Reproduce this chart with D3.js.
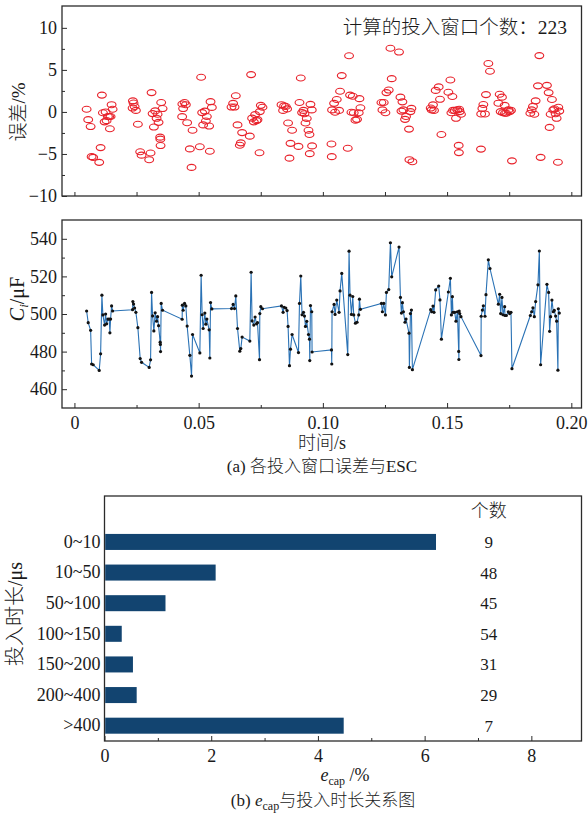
<!DOCTYPE html>
<html>
<head>
<meta charset="utf-8">
<script src="https://cdn.jsdelivr.net/npm/d3@7/dist/d3.min.js"></script>
<style>
  html, body { margin: 0; padding: 0; background: #fff; }
  svg { display: block; }
  text { font-family: "Liberation Serif", "DejaVu Serif", "Noto Sans CJK SC", serif; fill: #1a1a1a; }
</style>
</head>
<body>
<svg id="chart" width="588" height="816"></svg>
<script>
// Switching-window time stamps (s)
const times = [
  0.00491,0.00555,0.00652,0.00692,0.00756,0.00998,0.01054,0.01106,0.01146,0.01215,
  0.01255,0.01295,0.01348,0.01400,0.01428,0.01456,0.01496,0.01537,0.02341,0.02353,
  0.02381,0.02422,0.02474,0.02554,0.02647,0.02703,0.03009,0.03065,0.03105,0.03146,
  0.03198,0.03250,0.03307,0.03347,0.03387,0.03451,0.03459,0.03467,0.03492,0.03548,
  0.04336,0.04344,0.04376,0.04433,0.04485,0.04537,0.04646,0.04714,0.04755,0.05048,
  0.05100,0.05141,0.05181,0.05249,0.05290,0.05330,0.05422,0.05451,0.05479,0.05531,
  0.06323,0.06388,0.06444,0.06496,0.06565,0.06657,0.06697,0.06750,0.07060,0.07112,
  0.07152,0.07220,0.07273,0.07329,0.07369,0.07450,0.07462,0.07502,0.07570,0.08335,
  0.08399,0.08439,0.08508,0.08560,0.08600,0.08656,0.08697,0.08761,0.09018,0.09059,
  0.09111,0.09163,0.09220,0.09260,0.09300,0.09352,0.09421,0.09461,0.09473,0.09501,
  0.09553,0.09566,0.10346,0.10358,0.10370,0.10451,0.10491,0.10559,0.10652,0.10692,
  0.10760,0.11002,0.11054,0.11094,0.11150,0.11203,0.11243,0.11311,0.11376,0.11444,
  0.11472,0.11512,0.12357,0.12397,0.12450,0.12518,0.12558,0.12651,0.12719,0.12771,
  0.13065,0.13122,0.13162,0.13202,0.13242,0.13307,0.13347,0.13467,0.13483,0.13524,
  0.13564,0.13604,0.14340,0.14381,0.14433,0.14473,0.14541,0.14662,0.14714,0.14771,
  0.15052,0.15133,0.15173,0.15213,0.15237,0.15306,0.15358,0.15414,0.15467,0.15475,
  0.15487,0.15507,0.15559,0.16364,0.16372,0.16420,0.16460,0.16525,0.16565,0.16661,
  0.16726,0.17064,0.17116,0.17156,0.17208,0.17249,0.17317,0.17329,0.17385,0.17466,
  0.17518,0.17571,0.17611,0.18351,0.18403,0.18456,0.18512,0.18564,0.18657,0.18713,
  0.18765,0.19019,0.19087,0.19127,0.19167,0.19220,0.19276,0.19316,0.19368,0.19409,
  0.19461,0.19477,0.19517
];

// Estimated capacitance C_i per window (μF)
const capUF = [
  501.6,495.4,491.3,473.4,473.0,470.0,478.8,510.0,499.5,494.1,
  500.0,494.8,497.3,497.3,490.0,497.3,504.3,501.6,502.3,506.6,
  505.3,503.2,500.9,492.7,476.3,474.3,471.6,475.6,511.5,499.0,
  491.0,500.6,496.2,498.6,493.8,485.0,483.8,480.0,505.6,502.0,
  497.2,504.7,502.0,505.6,504.3,493.6,478.0,467.0,489.1,479.3,
  520.6,499.6,492.3,500.5,494.6,497.3,491.6,476.6,506.1,502.7,
  502.9,505.1,502.9,509.6,492.3,480.2,481.6,487.7,485.6,522.2,
  496.3,494.1,498.4,494.8,495.4,475.7,500.2,503.9,502.8,504.3,
  500.9,503.6,503.2,501.8,493.4,472.5,481.3,489.1,479.5,505.6,
  520.2,499.6,500.9,498.9,493.4,496.1,489.1,486.6,475.2,504.5,
  501.2,479.8,480.9,473.4,501.2,505.1,499.8,507.4,500.9,512.3,
  521.6,478.4,533.4,510.0,499.8,509.3,499.5,495.1,495.6,499.5,
  507.9,502.5,505.6,501.2,505.6,499.5,511.5,513.0,537.9,519.8,
  535.6,508.8,500.5,506.0,501.2,495.6,497.3,489.8,471.6,500.2,
  502.1,470.4,502.3,501.2,504.2,500.9,512.8,514.9,507.5,486.6,
  511.7,519.0,499.5,509.2,500.9,500.9,496.2,501.2,480.1,475.8,
  501.6,500.2,498.6,477.9,498.8,502.1,504.4,498.8,510.3,528.8,
  524.2,505.2,510.5,500.2,508.8,499.6,503.9,499.2,499.2,501.2,
  500.2,500.9,470.9,499.2,501.2,503.3,498.6,506.6,515.5,533.5,
  473.0,515.8,511.5,490.8,498.6,507.4,501.2,501.9,498.9,496.2,
  470.1,502.8,500.5
];

// Error of each window (%)
const errPct = [
  0.32,-0.92,-1.74,-5.32,-5.40,-6.00,-4.24,2.00,-0.10,-1.18,
  0.00,-1.04,-0.54,-0.54,-2.00,-0.54,0.86,0.32,0.46,1.32,
  1.06,0.64,0.18,-1.46,-4.74,-5.14,-5.68,-4.88,2.30,-0.20,
  -1.80,0.12,-0.76,-0.28,-1.24,-3.00,-3.24,-4.00,1.12,0.40,
  -0.56,0.94,0.40,1.12,0.86,-1.28,-4.40,-6.60,-2.18,-4.14,
  4.12,-0.08,-1.54,0.10,-1.08,-0.54,-1.68,-4.68,1.22,0.54,
  0.58,1.02,0.58,1.92,-1.54,-3.96,-3.68,-2.46,-2.88,4.44,
  -0.74,-1.18,-0.32,-1.04,-0.92,-4.86,0.04,0.78,0.56,0.86,
  0.18,0.72,0.64,0.36,-1.32,-5.50,-3.74,-2.18,-4.10,1.12,
  4.04,-0.08,0.18,-0.22,-1.32,-0.78,-2.18,-2.68,-4.96,0.90,
  0.24,-4.04,-3.82,-5.32,0.24,1.02,-0.04,1.48,0.18,2.46,
  4.32,-4.32,6.68,2.00,-0.04,1.86,-0.10,-0.98,-0.88,-0.10,
  1.58,0.50,1.12,0.24,1.12,-0.10,2.30,2.60,7.58,3.96,
  7.12,1.76,0.10,1.20,0.24,-0.88,-0.54,-2.04,-5.68,0.04,
  0.42,-5.92,0.46,0.24,0.84,0.18,2.56,2.98,1.50,-2.68,
  2.34,3.80,-0.10,1.84,0.18,0.18,-0.76,0.24,-3.98,-4.84,
  0.32,0.04,-0.28,-4.42,-0.24,0.42,0.88,-0.24,2.06,5.76,
  4.84,1.04,2.10,0.04,1.76,-0.08,0.78,-0.16,-0.16,0.24,
  0.04,0.18,-5.82,-0.16,0.24,0.66,-0.28,1.32,3.10,6.70,
  -5.40,3.16,2.30,-1.84,-0.28,1.48,0.24,0.38,-0.22,-0.76,
  -5.98,0.56,0.10
];

// Switching duration bins (μs), mean e_cap (%) and window count per bin
const durationBins = ["0~10", "10~50", "50~100", "100~150", "150~200", "200~400", ">400"];
const ecapVals = [6.2, 2.07, 1.13, 0.31, 0.52, 0.59, 4.47];
const windowCounts = [9, 48, 45, 54, 31, 29, 7];

const timeTicks = [0, 0.05, 0.10, 0.15, 0.20];
const timeTickLabels = ["0", "0.05", "0.10", "0.15", "0.20"];
const errTicks = [-10, -5, 0, 5, 10];
const capTicks = [460, 480, 500, 520, 540];
const ecapTicks = [0, 2, 4, 6, 8];

const SERIF = '"Liberation Serif", "DejaVu Serif", serif';
const MIXED = '"Liberation Serif", "Noto Sans CJK SC", serif';

const svg = d3.select("#chart");
const FRAME = "#2b2b2b";
const LBL = 18;

function frame(x0, y0, x1, y1) {
  svg.append("rect").attr("x", x0).attr("y", y0)
    .attr("width", x1 - x0).attr("height", y1 - y0)
    .attr("fill", "none").attr("stroke", FRAME).attr("stroke-width", 1.3);
}
function styleAxis(g) {
  g.attr("font-family", null).attr("font-size", null);
  g.select(".domain").remove();
  g.selectAll("line").attr("stroke", FRAME).attr("stroke-width", 1);
  g.selectAll("text").style("font-size", LBL + "px")
    .style("font-family", SERIF).attr("fill", "#1a1a1a");
}
function label(x, y, size, txt, rotate) {
  const t = svg.append("text")
    .attr("transform", rotate ? `translate(${x},${y}) rotate(-90)` : `translate(${x},${y})`)
    .attr("text-anchor", "middle").style("font-size", size + "px")
    .style("font-family", MIXED).style("font-weight", 300);
  if (txt) t.text(txt);
  return t;
}

// ---------- shared time axis ----------
const xT = d3.scaleLinear().domain([-0.005, 0.2041]).range([62, 581.5]);
const minorTime = d3.range(0, 0.2001, 0.025);

// ---------- panel 1: error scatter ----------
const yE = d3.scaleLinear().domain([-10, 12.6]).range([196, 6]);
frame(62, 6, 581.5, 196);

svg.append("g").attr("transform", "translate(0,196)")
  .call(d3.axisBottom(xT).tickValues(minorTime).tickSize(-4).tickFormat(""))
  .call(styleAxis);
svg.append("g").attr("transform", "translate(62,0)")
  .call(d3.axisLeft(yE).tickValues(errTicks).tickSize(-5).tickPadding(5)
    .tickFormat(d => d < 0 ? "\u2212" + Math.abs(d) : d))
  .call(styleAxis);
svg.append("g").attr("transform", "translate(62,0)")
  .call(d3.axisLeft(yE).tickValues([-7.5, -2.5, 2.5, 7.5]).tickSize(-3).tickFormat(""))
  .call(styleAxis);

svg.append("g").selectAll("ellipse").data(times).join("ellipse")
  .attr("cx", (d) => xT(d))
  .attr("cy", (d, i) => yE(errPct[i]))
  .attr("rx", 4.4).attr("ry", 3.0)
  .attr("fill", "none").attr("stroke", "#e8222b").attr("stroke-width", 1.1);

svg.append("text").attr("x", 567).attr("y", 34).attr("text-anchor", "end")
  .style("font-size", "19.5px").style("font-family", MIXED).style("font-weight", 300)
  .text("计算的投入窗口个数：223");

label(25, 112, 19, "误差/%", true);

// ---------- panel 2: capacitance line ----------
const yC = d3.scaleLinear().domain([450, 550]).range([408, 220]);
frame(62, 220, 581.5, 408);

svg.append("g").attr("transform", "translate(0,408)")
  .call(d3.axisBottom(xT).tickValues(timeTicks).tickSize(-5).tickPadding(8)
    .tickFormat((d, i) => timeTickLabels[i]))
  .call(styleAxis);
svg.append("g").attr("transform", "translate(0,408)")
  .call(d3.axisBottom(xT).tickValues([0.025, 0.075, 0.125, 0.175]).tickSize(-3).tickFormat(""))
  .call(styleAxis);
svg.append("g").attr("transform", "translate(62,0)")
  .call(d3.axisLeft(yC).tickValues(capTicks).tickSize(-5).tickPadding(5))
  .call(styleAxis);
svg.append("g").attr("transform", "translate(62,0)")
  .call(d3.axisLeft(yC).tickValues([470, 490, 510, 530]).tickSize(-3).tickFormat(""))
  .call(styleAxis);

const line = d3.line().x((d) => xT(d)).y((d, i) => yC(capUF[i]));
svg.append("path").datum(times).attr("d", line)
  .attr("fill", "none").attr("stroke", "#2a72b5").attr("stroke-width", 1.1);
svg.append("g").selectAll("circle").data(times).join("circle")
  .attr("cx", (d) => xT(d)).attr("cy", (d, i) => yC(capUF[i]))
  .attr("r", 1.6).attr("fill", "#111");

const cLabel = label(24, 299, 20, null, true).style("font-family", SERIF).style("font-weight", 400);
cLabel.append("tspan").style("font-style", "italic").text("C");
cLabel.append("tspan").style("font-style", "italic").style("font-size", "13px").attr("dy", 4).text("i");
cLabel.append("tspan").attr("dy", -4).text("/μF");

label(322, 449, 18, "时间/s");
label(322, 472, 17, "(a) 各投入窗口误差与ESC");

// ---------- panel 3: e_cap by switching duration ----------
const xB = d3.scaleLinear().domain([0, 8.94]).range([104.5, 581.5]);
const yB = d3.scaleBand().domain(["header", ...durationBins]).range([496, 741])
  .paddingInner(0.477).paddingOuter(0.2385);
frame(104.5, 496, 581.5, 741);

svg.append("g").attr("transform", "translate(0,741)")
  .call(d3.axisBottom(xB).tickValues(ecapTicks).tickSize(-5).tickPadding(8))
  .call(styleAxis);
svg.append("g").attr("transform", "translate(0,741)")
  .call(d3.axisBottom(xB).tickValues([1, 3, 5, 7]).tickSize(-3).tickFormat(""))
  .call(styleAxis);
svg.append("g").attr("transform", "translate(104.5,0)")
  .call(d3.axisLeft(yB).tickValues(durationBins).tickSize(0).tickPadding(4))
  .call(styleAxis);

svg.append("g").selectAll("rect").data(durationBins).join("rect")
  .attr("x", xB(0) + 0.7).attr("y", (d) => yB(d))
  .attr("width", (d, i) => xB(ecapVals[i]) - xB(0))
  .attr("height", yB.bandwidth()).attr("fill", "#124470");

const countX = xB(7.2);
svg.append("text").attr("x", countX).attr("y", yB("header") + yB.bandwidth() / 2 + 6)
  .attr("text-anchor", "middle").style("font-size", "18px").style("font-family", MIXED)
  .style("font-weight", 300).text("个数");
svg.append("g").selectAll("text").data(durationBins).join("text")
  .attr("x", countX).attr("y", (d) => yB(d) + yB.bandwidth() / 2 + 6)
  .attr("text-anchor", "middle").style("font-size", "17px").style("font-family", SERIF)
  .text((d, i) => windowCounts[i]);

label(22, 614, 20, "投入时长/μs", true);

const eLabel = label(345, 781, 18, null).style("font-family", SERIF).style("font-weight", 400);
eLabel.append("tspan").style("font-style", "italic").text("e");
eLabel.append("tspan").style("font-size", "12px").attr("dy", 4).text("cap");
eLabel.append("tspan").attr("dy", -4).text(" /%");

const bCap = label(323, 806, 17, null);
bCap.append("tspan").text("(b) ");
bCap.append("tspan").style("font-style", "italic").text("e");
bCap.append("tspan").style("font-size", "12px").attr("dy", 4).text("cap");
bCap.append("tspan").attr("dy", -4).text("与投入时长关系图");
</script>
</body>
</html>
